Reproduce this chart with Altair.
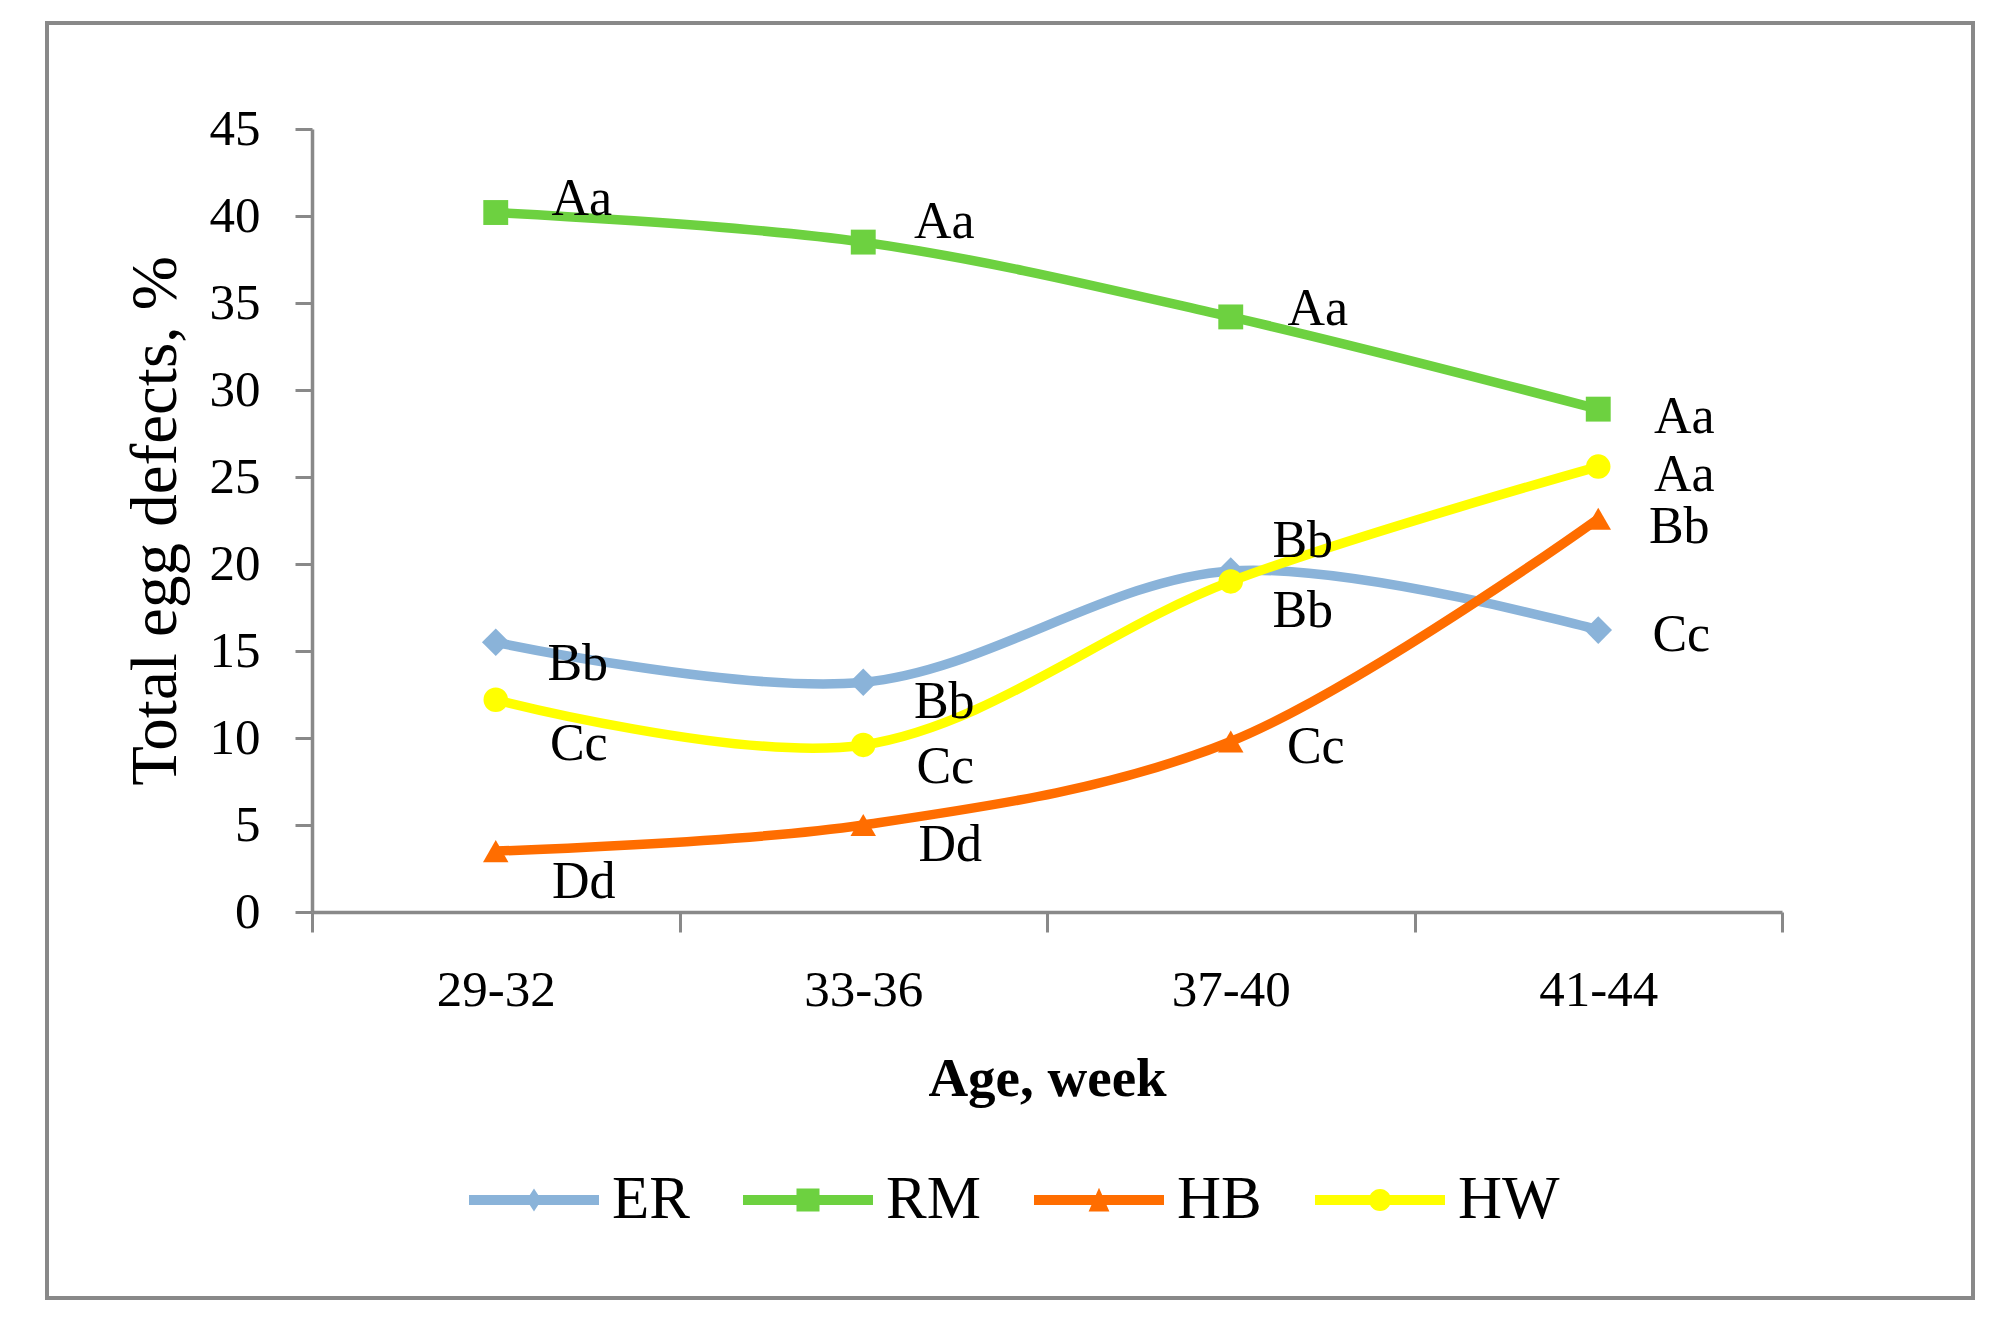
import altair as alt
import pandas as pd

# ---------------- data ----------------
ages = ["29-32", "33-36", "37-40", "41-44"]
series_names = ["ER", "RM", "HB", "HW"]
er_values = [15.5, 13.2, 19.6, 16.2]
rm_values = [40.2, 38.5, 34.2, 28.9]
hb_values = [3.5, 5.0, 9.8, 22.6]
hw_values = [12.2, 9.6, 19.0, 25.6]
er_letters = ["Bb", "Bb", "Bb", "Cc"]
rm_letters = ["Aa", "Aa", "Aa", "Aa"]
hb_letters = ["Dd", "Dd", "Cc", "Bb"]
hw_letters = ["Cc", "Cc", "Bb", "Aa"]

values = {"ER": er_values, "RM": rm_values, "HB": hb_values, "HW": hw_values}
letters = {"ER": er_letters, "RM": rm_letters, "HB": hb_letters, "HW": hw_letters}

rows = []
for s in series_names:
    for a, v, l in zip(ages, values[s], letters[s]):
        rows.append({"age": a, "value": v, "series": s, "label": l})
df = pd.DataFrame(rows)

# ---------------- styling ----------------
colors = {"ER": "#8AB3D9", "RM": "#6DD140", "HB": "#FF6D00", "HW": "#FFFF00"}
shapes = {"ER": "diamond", "RM": "square", "HB": "triangle-up", "HW": "circle"}
sizes = {"ER": 760, "RM": 620, "HB": 650, "HW": 600}
# pixel offsets of the significance letters relative to their point
label_offsets = {
    "ER": [(82, 22), (81, 20), (72, 40), (83, 5)],
    "RM": [(86, -14), (81, -20), (87, -8), (86, 8)],
    "HB": [(88, 31), (87, 20), (85, 6), (81, 8)],
    "HW": [(83, 44), (82, 22), (72, -40), (86, 8)],
}
legend_paths = {
    "ER": "M-1,-0.077L1,-0.077L1,0.077L-1,0.077Z M0,-0.177L0.115,0L0,0.177L-0.115,0Z",
    "RM": "M-1,-0.077L1,-0.077L1,0.077L-1,0.077Z M-0.177,-0.177L0.177,-0.177L0.177,0.177L-0.177,0.177Z",
    "HB": "M-1,-0.077L1,-0.077L1,0.077L-1,0.077Z M0,-0.19L0.16,0.177L-0.16,0.177Z",
    "HW": "M-1,-0.077L1,-0.077L1,0.077L-1,0.077Z M-0.17,0A0.17,0.17 0 1,1 0.17,0A0.17,0.17 0 1,1 -0.17,0Z",
}

FONT = "Liberation Serif"
GRAY = "#898989"
W, H = 1470, 783

X = alt.X(
    "age:N",
    sort=ages,
    scale=alt.Scale(type="band", paddingInner=0, paddingOuter=0, domain=ages),
    axis=alt.Axis(
        title="Age, week",
        titleFont=FONT, titleFontSize=55, titleFontWeight="bold", titleColor="black",
        titlePadding=37,
        labelFont=FONT, labelFontSize=51, labelColor="black", labelAngle=0, labelPadding=33,
        domainColor=GRAY, domainWidth=3.5,
        tickColor=GRAY, tickWidth=3, tickSize=20, tickBand="extent",
        grid=False,
    ),
)
Y = alt.Y(
    "value:Q",
    scale=alt.Scale(domain=[0, 45], nice=False, zero=True),
    axis=alt.Axis(
        values=list(range(0, 50, 5)),
        title="Total egg defects, %",
        titleFont=FONT, titleFontSize=65, titleFontWeight="normal", titleColor="black",
        titlePadding=20,
        labelFont=FONT, labelFontSize=51, labelColor="black", labelPadding=35,
        domainColor=GRAY, domainWidth=3.5,
        tickColor=GRAY, tickWidth=3, tickSize=17,
        grid=False,
    ),
)

layers = []

# outer frame
frame = alt.Chart(pd.DataFrame({"f": [0]})).mark_rect(
    fillOpacity=0, stroke=GRAY, strokeWidth=4
).encode(
    x=alt.value(-265), x2=alt.value(1661), y=alt.value(-106), y2=alt.value(1169)
)
layers.append(frame)

for s in series_names:
    d = df[df.series == s]
    line = alt.Chart(d).mark_line(
        interpolate="catmull-rom", strokeWidth=9.5, color=colors[s]
    ).encode(x=X, y=Y)
    pts = alt.Chart(d).mark_point(
        filled=True, shape=shapes[s], size=sizes[s], color=colors[s], opacity=1
    ).encode(x=X, y=Y)
    layers += [line, pts]

for s in series_names:
    d = df[df.series == s].reset_index(drop=True)
    for i in range(len(d)):
        dx, dy = label_offsets[s][i]
        txt = alt.Chart(d.iloc[[i]]).mark_text(
            font=FONT, fontSize=52, color="black", align="center", baseline="middle",
            dx=dx, dy=dy,
        ).encode(x=X, y=Y, text="label:N")
        layers.append(txt)

leg = alt.Legend(
    title=None, orient="none", legendX=157, legendY=1006, direction="horizontal",
    columns=4, labelFont=FONT, labelFontSize=61, labelColor="black",
    symbolSize=16900, symbolStrokeWidth=0, labelOffset=13, columnPadding=53, padding=0,
)
legend_layer = alt.Chart(df).transform_filter("false").mark_point(
    filled=True, opacity=1
).encode(
    x=X, y=Y,
    color=alt.Color("series:N", scale=alt.Scale(domain=series_names,
                                                  range=[colors[s] for s in series_names]),
                    legend=leg),
    shape=alt.Shape("series:N", scale=alt.Scale(domain=series_names,
                                                  range=[legend_paths[s] for s in series_names]),
                    legend=leg),
)
layers.append(legend_layer)

chart = alt.layer(*layers).properties(
    width=W, height=H,
    padding={"left": 37, "top": 13, "right": 5, "bottom": 5},
    background="white",
).configure_view(stroke=None)

chart.save("out.html", embed_options={"renderer": "svg", "actions": False})
